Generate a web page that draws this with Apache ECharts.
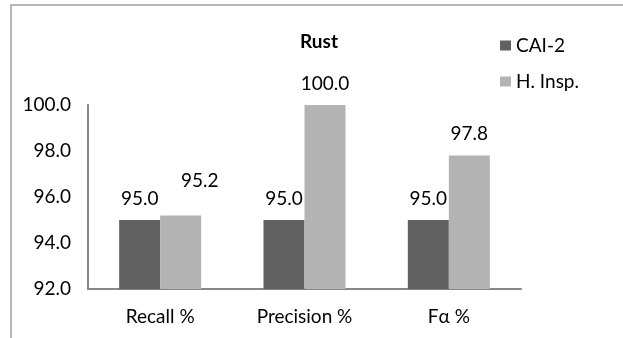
<!DOCTYPE html>
<html>
<head>
<meta charset="utf-8">
<script src="https://cdn.jsdelivr.net/npm/echarts@6/dist/echarts.min.js"></script>
<style>
  html, body { margin: 0; padding: 0; background: #fff; }
  #chart { width: 623px; height: 338px; }
</style>
</head>
<body>
<div id="chart"></div>
<script>
// Rust detection results: CAI-2 versus human inspection
const categories = ['Recall %', 'Precision %', 'Fα %'];
const cai2 = [95.0, 95.0, 95.0];
const hInsp = [95.2, 100.0, 97.8];
const yTicks = { min: 92, max: 100, step: 2 };

const FONT = 'Lato';
const FS = 19;
const chart = echarts.init(document.getElementById('chart'), null, { renderer: 'canvas' });

// the 95.2 label is nudged up and right so it clears its neighbour
const hInspData = hInsp.map((v, i) =>
  i === 0 ? { value: v, label: { distance: 25, offset: [19, 0] } } : v);

const valueLabel = {
  show: true, position: 'top', distance: 12,
  color: '#000', fontSize: FS, fontFamily: FONT,
  formatter: p => p.value.toFixed(1)
};

chart.setOption({
  animation: false,
  textStyle: { fontFamily: FONT },
  title: {
    text: 'Rust',
    left: 295, top: 27,
    textStyle: { fontFamily: FONT, fontSize: FS, fontWeight: 'bold', color: '#000' }
  },
  graphic: [{
    type: 'rect',
    shape: { x: 11, y: 5, width: 800, height: 500 },
    style: { fill: 'none', stroke: '#a0a0a0', lineWidth: 1.5 },
    silent: true
  }],
  legend: {
    orient: 'vertical',
    left: 495, top: 31,
    itemWidth: 11, itemHeight: 10, itemGap: 17,
    icon: 'rect',
    textStyle: { fontFamily: FONT, fontSize: FS, color: '#000' },
    data: ['CAI-2', 'H. Insp.']
  },
  grid: { left: 88, right: 102, top: 105, bottom: 49 },
  xAxis: {
    type: 'category',
    data: categories,
    axisLine: { lineStyle: { color: '#868686', width: 2 } },
    axisTick: { show: false },
    axisLabel: { color: '#000', fontSize: FS, fontFamily: FONT, margin: 18 }
  },
  yAxis: {
    type: 'value',
    min: yTicks.min, max: yTicks.max, interval: yTicks.step,
    axisLine: { show: true, lineStyle: { color: '#868686', width: 2 } },
    axisTick: { show: false },
    splitLine: { show: false },
    axisLabel: {
      color: '#000', fontSize: FS, fontFamily: FONT, margin: 17,
      formatter: v => v.toFixed(1)
    }
  },
  series: [
    {
      name: 'CAI-2', type: 'bar', data: cai2,
      barWidth: 41, barGap: '0%',
      itemStyle: { color: '#616161' },
      label: valueLabel
    },
    {
      name: 'H. Insp.', type: 'bar', data: hInspData,
      barWidth: 41, barGap: '0%',
      itemStyle: { color: '#b3b3b3' },
      label: valueLabel
    }
  ]
});
</script>
</body>
</html>
